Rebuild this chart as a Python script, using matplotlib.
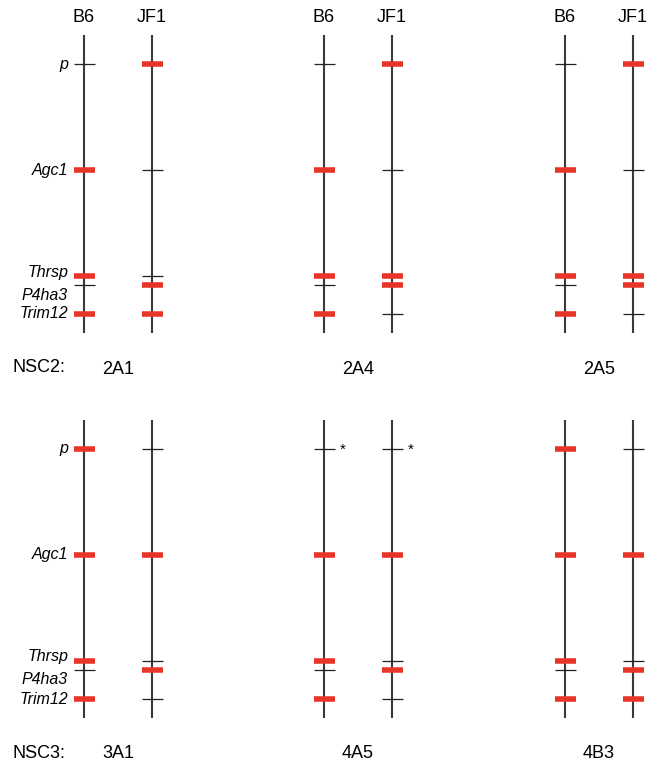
import matplotlib
matplotlib.use("Agg")
import matplotlib.pyplot as plt

plt.rcParams["font.family"] = ["Liberation Sans", "DejaVu Sans"]

# ---- data ----
genes = ["p", "Agc1", "Thrsp", "P4ha3", "Trim12"]
gene_pos = [29, 135, 241, 250, 279]  # distance along chromosome from its top
chrom_len = 298
strains = ["B6", "JF1"]

rows = ["NSC2:", "NSC3:"]
clones = [["2A1", "2A4", "2A5"], ["3A1", "4A5", "4B3"]]

# 1 = expressed (red), 0 = silent (black); order follows genes
b6_state = [
    [[0, 1, 1, 0, 1], [0, 1, 1, 0, 1], [0, 1, 1, 0, 1]],
    [[1, 1, 1, 0, 1], [0, 1, 1, 0, 1], [1, 1, 1, 0, 1]],
]
jf1_state = [
    [[1, 0, 0, 1, 1], [1, 0, 1, 1, 0], [1, 0, 1, 1, 0]],
    [[0, 1, 0, 1, 0], [0, 1, 0, 1, 0], [0, 1, 0, 1, 1]],
]
starred = [("4A5", "p")]

# ---- layout ----
W, H = 650, 762
panel_x = [84, 324, 565]
pair_gap = 68
row_top = [35, 420]
half_tick = 10.5
RED = "#e8352a"
LINE = "#3a3a3a"

fig = plt.figure(figsize=(W / 100, H / 100), dpi=100)
ax = fig.add_axes([0, 0, 1, 1])
ax.set_xlim(0, W)
ax.set_ylim(H, 0)
ax.axis("off")

for r in range(2):
    top = row_top[r]
    for c in range(3):
        for s, states in enumerate([b6_state, jf1_state]):
            x = panel_x[c] + s * pair_gap
            ax.vlines(x, top, top + chrom_len, color=LINE, lw=1.5)
            for g, st in enumerate(states[r][c]):
                y = top + gene_pos[g]
                if st:
                    ax.hlines(y, x - half_tick, x + half_tick, color=RED, lw=4.0,
                              capstyle="butt", zorder=3)
                else:
                    ax.hlines(y, x - half_tick, x + half_tick, color="#222222", lw=0.9,
                              zorder=3)
                if (clones[r][c], genes[g]) in starred:
                    ax.text(x + 19, y + 1, "*", ha="center", va="center", fontsize=11)
            if r == 0:
                ax.text(x, 17, strains[s], ha="center", va="center", fontsize=13)
        ax.text(panel_x[c] + pair_gap / 2, top + chrom_len + 36, clones[r][c],
                ha="center", va="center", fontsize=13)
    ax.text(12, top + chrom_len + 35, rows[r], ha="left", va="center", fontsize=13)

    # gene labels on the left
    label_dy = [0, 0, -4, 10, 0]
    for g, name in enumerate(genes):
        ax.text(68, top + gene_pos[g] + label_dy[g], name, ha="right", va="center",
                fontsize=11.5, style="italic")

fig.savefig("out.png", dpi=100)
